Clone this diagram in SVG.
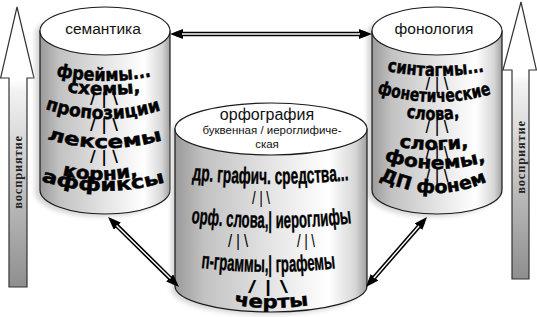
<svg xmlns="http://www.w3.org/2000/svg" xmlns:xlink="http://www.w3.org/1999/xlink" width="537" height="317" viewBox="0 0 537 317">
<style>
.body{stroke:#1a1a1a;stroke-width:1.2;fill:url(#cyl)}
.top{fill:#fff;stroke:#1a1a1a;stroke-width:1.2}
.shadow{fill:#c8c8c8;filter:url(#blur);opacity:0.7}
.lbl{font-family:"Liberation Sans",Arial,sans-serif;font-size:15.5px;fill:#111;text-anchor:middle}
.sub{font-family:"Liberation Sans",Arial,sans-serif;font-size:11.5px;fill:#111;text-anchor:middle}
.wide{font-family:"DejaVu Sans",sans-serif;font-weight:bold;font-size:18px;fill:#000;stroke:#000;stroke-width:0.5}
.narrow{font-family:"Liberation Sans",Arial,sans-serif;font-weight:bold;font-size:23px;fill:#000;stroke:#000;stroke-width:0.4}
.sl{font-family:"DejaVu Sans",sans-serif;font-weight:bold;font-size:15px;fill:#000;text-anchor:middle}
.vert{font-family:"Liberation Serif","Times New Roman",serif;font-weight:bold;font-size:12.5px;fill:#222;letter-spacing:0.8px;text-anchor:middle}
.arrow{stroke:#333;stroke-width:1.2;fill:url(#shaft)}
.outer{stroke:#000;stroke-width:4.5;fill:none}
.inner{stroke:#fff;stroke-width:1.4;fill:none}
</style>
<defs>
<linearGradient id="cyl" x1="0" y1="0" x2="1" y2="0">
<stop offset="0" stop-color="#9a9a9a"/>
<stop offset="0.15" stop-color="#c2c2c2"/>
<stop offset="0.5" stop-color="#e4e4e4"/>
<stop offset="0.8" stop-color="#ffffff"/>
<stop offset="0.94" stop-color="#d6d6d6"/>
<stop offset="1" stop-color="#a0a0a0"/>
</linearGradient>
<linearGradient id="shaft" x1="0" y1="0" x2="0" y2="1">
<stop offset="0" stop-color="#ffffff"/>
<stop offset="0.26" stop-color="#ffffff"/>
<stop offset="0.3" stop-color="#f2f2f2"/>
<stop offset="1" stop-color="#8e8e8e"/>
</linearGradient>
<filter id="blur" x="-20%" y="-20%" width="140%" height="140%"><feGaussianBlur stdDeviation="2"/></filter>
<marker id="ah" viewBox="0 0 13 10" refX="7" refY="5" markerWidth="13" markerHeight="10" markerUnits="userSpaceOnUse" orient="auto-start-reverse">
<path d="M0,0 L13,5 L0,10 Z" fill="#000"/>
</marker>
<path id="pL1" d="M56,76 Q105,86 154,76"/>
<path id="pL2" d="M67,92 Q105,98 143,92"/>
<path id="pL4" d="M45,109 Q105,129 165,109"/>
<path id="pL6" d="M47,139 Q106,157 166,139"/>
<path id="pL8" d="M62,175 Q101,185 141,175"/>
<path id="pL9" d="M41,181 Q105,201 169,181"/>
<path id="pR1" d="M387,71 Q437,81 487,71"/>
<path id="pR3" d="M377,93 Q437,111 495,93"/>
<path id="pR4" d="M406,117 Q434,123 462,117"/>
<path id="pR6" d="M399,147 Q435,153 471,147"/>
<path id="pR8" d="M384,160 Q437,178 490,160"/>
<path id="pR10" d="M379,179 Q436,207 493,179"/>
<path id="pM1" d="M192,180 Q271,188 351,180"/>
<path id="pM3" d="M191,223 Q272,233 354,223"/>
<path id="pM5" d="M201,268 Q270,276 338,268"/>
<path id="pM7" d="M234,305 Q272,311 311,305"/>
</defs>
<rect width="537" height="317" fill="#fff"/>

<g id="perception-left">
<polygon class="arrow" points="17,7 34,78 27,78 27,287 9,287 9,78 0.6,78"/>
<text class="vert" transform="translate(22,172) rotate(-90)">восприятие</text>
</g>
<g id="perception-right">
<polygon class="arrow" points="521,2 536.4,70 529,70 529,279 512,279 512,70 503,70"/>
<text class="vert" transform="translate(525,157) rotate(-90)">восприятие</text>
</g>

<g id="semantics">
<path class="shadow" d="M35,34 L35,193 A65,24 0 0 0 165,193 L165,34 A65,24 0 0 0 35,34 Z"/>
<path class="body" d="M40,31 L40,190 A65,24 0 0 0 170,190 L170,31 Z"/>
<ellipse class="top" cx="105" cy="31" rx="65" ry="24"/>
<text class="lbl" x="103" y="34">семантика</text>
<text class="wide"><textPath xlink:href="#pL1" textLength="96" lengthAdjust="spacingAndGlyphs">фреймы...</textPath></text>
<text class="wide"><textPath xlink:href="#pL2" textLength="74" lengthAdjust="spacingAndGlyphs">схемы,</textPath></text>
<text class="sl" x="104" y="104" textLength="28" lengthAdjust="spacingAndGlyphs">/ | \</text>
<text class="wide"><textPath xlink:href="#pL4" textLength="118" lengthAdjust="spacingAndGlyphs">пропозиции</textPath></text>
<text class="sl" x="104" y="130" textLength="28" lengthAdjust="spacingAndGlyphs">/ | \</text>
<text class="wide"><textPath xlink:href="#pL6" textLength="117" lengthAdjust="spacingAndGlyphs">лексемы</textPath></text>
<text class="sl" x="104" y="162" textLength="28" lengthAdjust="spacingAndGlyphs">/ | \</text>
<text class="wide"><textPath xlink:href="#pL8" textLength="77" lengthAdjust="spacingAndGlyphs">корни,</textPath></text>
<text class="wide"><textPath xlink:href="#pL9" textLength="126" lengthAdjust="spacingAndGlyphs">аффиксы</textPath></text>
</g>

<g id="phonology">
<path class="shadow" d="M367,34 L367,193 A65,24 0 0 0 497,193 L497,34 A65,24 0 0 0 367,34 Z"/>
<path class="body" d="M372,31 L372,190 A65,24 0 0 0 502,190 L502,31 Z"/>
<ellipse class="top" cx="437" cy="31" rx="65" ry="24"/>
<text class="lbl" x="434" y="34">фонология</text>
<text class="wide"><textPath xlink:href="#pR1" textLength="98" lengthAdjust="spacingAndGlyphs">синтагмы...</textPath></text>
<text class="sl" x="437" y="89" textLength="23" lengthAdjust="spacingAndGlyphs">/ | \</text>
<text class="wide"><textPath xlink:href="#pR3" textLength="116" lengthAdjust="spacingAndGlyphs">фонетические</textPath></text>
<text class="wide"><textPath xlink:href="#pR4" textLength="54" lengthAdjust="spacingAndGlyphs">слова,</textPath></text>
<text class="sl" x="437" y="132" textLength="23" lengthAdjust="spacingAndGlyphs">/ | \</text>
<text class="wide"><textPath xlink:href="#pR6" textLength="70" lengthAdjust="spacingAndGlyphs">слоги,</textPath></text>
<text class="sl" x="437" y="158" textLength="23" lengthAdjust="spacingAndGlyphs">/ | \</text>
<text class="wide"><textPath xlink:href="#pR8" textLength="104" lengthAdjust="spacingAndGlyphs">фонемы,</textPath></text>
<text class="sl" x="437" y="181" textLength="23" lengthAdjust="spacingAndGlyphs">/ | \</text>
<text class="wide"><textPath xlink:href="#pR10" textLength="112" lengthAdjust="spacingAndGlyphs">ДП фонем</textPath></text>
</g>

<g id="orthography">
<path class="shadow" d="M171,132 L171,289 A96,26 0 0 0 363,289 L363,132 A96,26 0 0 0 171,132 Z"/>
<path class="body" d="M175,129 L175,286 A96,26 0 0 0 367,286 L367,129 Z"/>
<ellipse class="top" cx="271" cy="129" rx="96" ry="26"/>
<text class="lbl" x="267" y="120" style="font-size:16px">орфография</text>
<text class="sub" x="272" y="134">буквенная / иероглифиче-</text>
<text class="sub" x="267" y="148">ская</text>
<text class="narrow"><textPath xlink:href="#pM1" textLength="157" lengthAdjust="spacingAndGlyphs">др. графич. средства...</textPath></text>
<text class="sl" x="261" y="203" textLength="18" lengthAdjust="spacingAndGlyphs">/ | \</text>
<text class="narrow"><textPath xlink:href="#pM3" textLength="161" lengthAdjust="spacingAndGlyphs">орф. слова,| иероглифы</textPath></text>
<text class="sl" x="238" y="246" textLength="20" lengthAdjust="spacingAndGlyphs">/ | \</text>
<text class="sl" x="306" y="246" textLength="18" lengthAdjust="spacingAndGlyphs">/ | \</text>
<text class="narrow"><textPath xlink:href="#pM5" textLength="135" lengthAdjust="spacingAndGlyphs">п-граммы,| графемы</textPath></text>
<text class="sl" x="268" y="292" textLength="40" lengthAdjust="spacingAndGlyphs">/ | \</text>
<text class="wide"><textPath xlink:href="#pM7" textLength="75" lengthAdjust="spacingAndGlyphs">черты</textPath></text>
</g>

<g id="connectors">
<path class="outer" d="M176,34 L366,34" marker-start="url(#ah)" marker-end="url(#ah)"/>
<path class="inner" d="M182,34 L360,34"/>
<path class="outer" d="M112.3,221.2 L174.7,282.8" marker-start="url(#ah)" marker-end="url(#ah)"/>
<path class="inner" d="M116.5,225.4 L170.5,278.6"/>
<path class="outer" d="M423.1,221.5 L369.9,282.5" marker-start="url(#ah)" marker-end="url(#ah)"/>
<path class="inner" d="M419.1,226 L373.9,278"/>
</g>
</svg>
